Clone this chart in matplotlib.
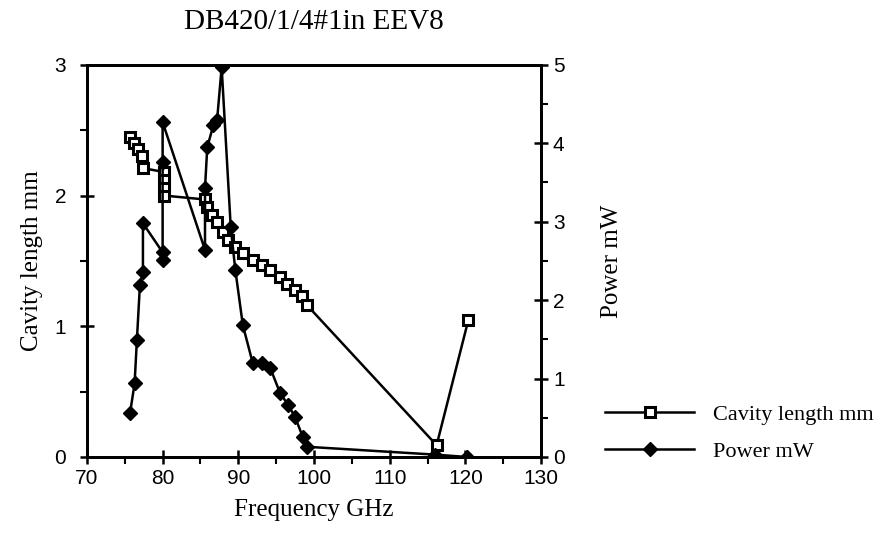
import matplotlib
matplotlib.use("Agg")
import matplotlib.pyplot as plt
from matplotlib.ticker import MultipleLocator

# Cavity length (mm) vs frequency (GHz)
freq_cav = [75.7, 76.2, 76.7, 77.3, 77.4,
            80.2, 80.2, 80.2, 80.2,
            85.6, 85.9, 86.5, 87.2, 88.0, 88.6, 89.6, 90.6, 91.9,
            93.1, 94.2, 95.5, 96.4, 97.5, 98.4, 99.1,
            116.2, 120.4]
cavity = [2.45, 2.40, 2.36, 2.30, 2.21,
          2.18, 2.12, 2.06, 2.00,
          1.97, 1.91, 1.85, 1.80, 1.72, 1.66, 1.61, 1.56, 1.51,
          1.47, 1.43, 1.38, 1.32, 1.28, 1.23, 1.16,
          0.09, 1.05]

# Power (mW) vs frequency (GHz)
freq_pow = [75.7, 76.3, 76.6, 77.0, 77.4, 77.4,
            80.0, 80.0, 80.0, 80.0,
            85.6, 85.6, 85.9, 86.7, 87.2, 87.8,
            89.0, 89.6, 90.6, 91.9, 93.1, 94.2, 95.5, 96.6, 97.5, 98.5, 99.1,
            116.0, 120.2]
power = [0.56, 0.94, 1.49, 2.19, 2.36, 2.98,
         2.61, 2.51, 3.76, 4.27,
         2.64, 3.43, 3.95, 4.23, 4.30, 4.97,
         2.93, 2.39, 1.68, 1.20, 1.20, 1.14, 0.82, 0.66, 0.51, 0.26, 0.13,
         0.03, 0.0]

serif = "Liberation Serif"
sans = "Liberation Sans"

fig = plt.figure(figsize=(8.87, 5.45), dpi=100)
ax = fig.add_axes([0.098, 0.1615, 0.512, 0.7195])
ax2 = ax.twinx()

l1, = ax.plot(freq_cav, cavity, color="black", lw=1.8, marker="s", ms=7,
              mfc="white", mec="black", mew=2.2, zorder=3)
l2, = ax2.plot(freq_pow, power, color="black", lw=1.8, marker="D", ms=7,
               mfc="black", mec="black", zorder=3)

ax.set_xlim(70, 130)
ax.set_ylim(0, 3)
ax2.set_ylim(0, 5)
ax.xaxis.set_major_locator(MultipleLocator(10))
ax.xaxis.set_minor_locator(MultipleLocator(5))
ax.yaxis.set_major_locator(MultipleLocator(1))
ax.yaxis.set_minor_locator(MultipleLocator(0.5))
ax2.yaxis.set_major_locator(MultipleLocator(1))
ax2.yaxis.set_minor_locator(MultipleLocator(0.5))

for a in (ax, ax2):
    for s in a.spines.values():
        s.set_linewidth(2)
    a.tick_params(which="major", direction="inout", length=10, width=1.8,
                  labelsize=15)
    a.tick_params(which="minor", direction="out", length=5, width=1.5)
    for lab in a.get_xticklabels() + a.get_yticklabels():
        lab.set_fontfamily(sans)
ax.tick_params(axis="y", pad=10)

ax.set_title("DB420/1/4#1in EEV8", fontfamily=serif, fontsize=21, pad=26)
ax.set_xlabel("Frequency GHz", fontfamily=serif, fontsize=18, labelpad=8)
ax.set_ylabel("Cavity length mm", fontfamily=serif, fontsize=18, labelpad=8)
ax2.set_ylabel("Power mW", fontfamily=serif, fontsize=18, labelpad=26,
               rotation=90)

fig.legend([l1, l2], ["Cavity length mm", "Power mW"],
           loc="center left", bbox_to_anchor=(0.66, 0.205),
           frameon=False, handlelength=4.0, handletextpad=0.85,
           labelspacing=0.75, prop={"family": serif, "size": 16})

fig.savefig("out.png", dpi=100)
